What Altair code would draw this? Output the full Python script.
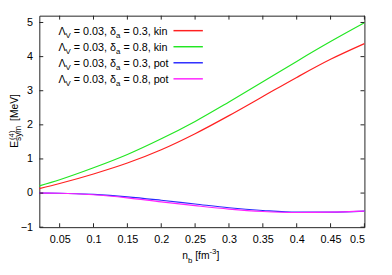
import altair as alt
import pandas as pd

# ---------------- data ----------------
n_b = [0.02, 0.05, 0.1, 0.15, 0.2, 0.25, 0.3, 0.35, 0.4, 0.45, 0.5]
kin_03 = [0.13, 0.28, 0.56, 0.88, 1.27, 1.74, 2.27, 2.83, 3.39, 3.92, 4.38]
kin_08 = [0.21, 0.39, 0.74, 1.13, 1.59, 2.10, 2.67, 3.26, 3.86, 4.44, 4.99]
pot_03 = [0.0, -0.005, -0.04, -0.11, -0.21, -0.32, -0.43, -0.51, -0.56, -0.56, -0.53]
pot_08 = [0.0, -0.005, -0.05, -0.14, -0.26, -0.37, -0.47, -0.54, -0.57, -0.56, -0.53]

series_names = ["kin_03", "kin_08", "pot_03", "pot_08"]
series_vals = [kin_03, kin_08, pot_03, pot_08]
series_delta = ["0.3", "0.8", "0.3", "0.8"]
series_kind = ["kin", "kin", "pot", "pot"]
series_colors = ["#ff2020", "#22e622", "#2a2aff", "#ff22ff"]

x_ticks = [0.05, 0.1, 0.15, 0.2, 0.25, 0.3, 0.35, 0.4, 0.45, 0.5]
y_ticks = [-1, 0, 1, 2, 3, 4, 5]
x_domain = [0.02, 0.5]
y_domain = [-1, 5.2]

W, H = 332, 216
FONT = "Liberation Sans"

# Arial-like advance widths (per 1000 em) for text layout of rich labels
ADV = {' ': 278, '=': 584, '.': 278, ',': 278, 'Λ': 667, 'δ': 556, 'k': 500, 'i': 222,
       'n': 556, 'p': 556, 'o': 556, 't': 278, 'V': 667, 'a': 556, 'E': 667, 's': 500,
       'y': 500, 'm': 833, '(': 333, ')': 333, '[': 278, ']': 278, 'M': 833, 'e': 556,
       'b': 556, 'f': 278, '-': 333}
for d in "0123456789":
    ADV[d] = 556


def tw(s, size):
    return sum(ADV.get(c, 556) for c in s) * size / 1000.0


rows = []
for name, vals in zip(series_names, series_vals):
    for x, v in zip(n_b, vals):
        rows.append({"n": x, "E": v, "s": name})
df = pd.DataFrame(rows)

xs = alt.Scale(domain=x_domain, nice=False, zero=False)
ys = alt.Scale(domain=y_domain, nice=False, zero=False)

x_axis = alt.Axis(values=x_ticks, format="~g", title=None, ticks=False,
                  domain=False, grid=False, labelPadding=7, labelOverlap=False,
                  labelFontSize=11, labelFont=FONT, labelColor="black")
y_axis = alt.Axis(values=y_ticks, format="d", title=None, ticks=False,
                  domain=False, grid=False, labelPadding=7, labelOverlap=False,
                  labelFontSize=11, labelFont=FONT, labelColor="black")

base = alt.Chart(df)
layers = []
for i, name in enumerate(series_names):
    layers.append(
        base.transform_filter(alt.datum.s == name)
        .mark_line(color=series_colors[i], strokeWidth=1.2, interpolate="monotone")
        .encode(
            x=alt.X("n:Q", scale=xs, axis=x_axis),
            y=alt.Y("E:Q", scale=ys, axis=y_axis),
        )
    )

# inward tick marks on all four sides (gnuplot style)
TL = 4
xt = pd.DataFrame({"n": x_ticks})
yt = pd.DataFrame({"E": y_ticks})
tick_col = "#222"
layers.append(alt.Chart(xt).mark_rule(color=tick_col, strokeWidth=1).encode(
    x=alt.X("n:Q", scale=xs, axis=x_axis), y=alt.value(H), y2=alt.value(H - TL)))
layers.append(alt.Chart(xt).mark_rule(color=tick_col, strokeWidth=1).encode(
    x=alt.X("n:Q", scale=xs, axis=x_axis), y=alt.value(0), y2=alt.value(TL)))
layers.append(alt.Chart(yt).mark_rule(color=tick_col, strokeWidth=1).encode(
    y=alt.Y("E:Q", scale=ys, axis=y_axis), x=alt.value(0), x2=alt.value(TL)))
layers.append(alt.Chart(yt).mark_rule(color=tick_col, strokeWidth=1).encode(
    y=alt.Y("E:Q", scale=ys, axis=y_axis), x=alt.value(W), x2=alt.value(W - TL)))

# ---------------- rich text (legend and axis titles) ----------------
OX, OY = 40, 13  # plot origin in page pixels
MAIN, SUB = 11, 8
texts = []


def put(txt, ax, ay, size, ang=0):
    texts.append({"px": ax - OX, "py": ay - OY, "t": txt, "sz": size, "ang": ang})


leg_lines = []
x0 = 59.5
for i in range(4):
    yc = 28.3 + i * 16.4
    base_y = yc + 4
    x = x0
    put("Λ", x, base_y, MAIN); x += tw("Λ", MAIN)
    put("V", x, base_y + 3.5, SUB); x += tw("V", SUB)
    x += tw(" ", MAIN)
    s = "= 0.03, δ"
    put(s, x, base_y, MAIN); x += tw(s, MAIN)
    put("a", x, base_y + 3.5, SUB); x += tw("a", SUB)
    x += tw(" ", MAIN)
    put(f"= {series_delta[i]}, {series_kind[i]}", x, base_y, MAIN)
    leg_lines.append({"x1": 177 - OX, "x2": 207 - OX, "y": yc - OY, "c": series_colors[i]})

# x title: n_b [fm^-3]
TS = 10.5
x = 186
put("n", x, 262, TS); x += tw("n", TS)
put("b", x, 265.5, SUB); x += tw("b", SUB) + tw(" ", TS)
put("[fm", x, 262, TS); x += tw("[fm", TS)
put("-3", x, 256.5, SUB); x += tw("-3", SUB)
put("]", x, 262, TS)

# y title: E_sym^(4) [MeV]  (rotated, reading upward)
YT = 18.5  # baseline x of the rotated main text
y = 148
put("E", YT, y, TS, 270); y -= tw("E", TS)
put("sym", YT + 3.2, y, 8.5, 270)
put("(4)", YT - 4.6, y - 1, SUB, 270)
y -= tw("sym", 8.5) + tw(" ", TS)
put("[MeV]", YT, y - 2, TS, 270)

tdf = pd.DataFrame(texts)
layers.append(
    alt.Chart(tdf).mark_text(align="left", baseline="alphabetic", font=FONT, color="black")
    .encode(
        x=alt.X("px:Q", scale=None),
        y=alt.Y("py:Q", scale=None),
        text="t:N",
        size=alt.Size("sz:Q", scale=None),
        angle=alt.Angle("ang:Q", scale=None),
    )
)

ldf = pd.DataFrame(leg_lines)
layers.append(
    alt.Chart(ldf).mark_rule(strokeWidth=1.5).encode(
        x=alt.X("x1:Q", scale=None), x2="x2:Q",
        y=alt.Y("y:Q", scale=None),
        color=alt.Color("c:N", scale=None),
    )
)

chart = (
    alt.layer(*layers)
    .properties(
        width=W, height=H,
        autosize=alt.AutoSizeParams(type="none"),
        padding={"left": 32, "top": 5, "right": 20, "bottom": 46},
        background="white",
    )
    .configure_view(stroke="#222", strokeWidth=1)
    .configure_axis(labelOverlap=False)
)

chart.save("out.html", embed_options={"renderer": "svg", "actions": False})
